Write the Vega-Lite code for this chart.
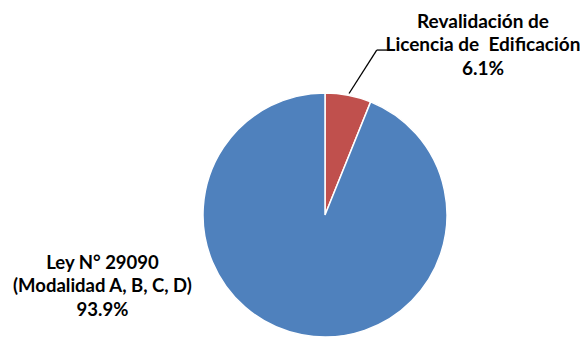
{
  "$schema": "https://vega.github.io/schema/vega-lite/v6.json",
  "width": 244,
  "height": 244,
  "autosize": {"type": "none"},
  "padding": {"left": 203, "top": 93, "right": 133, "bottom": 1},
  "background": "white",
  "view": {"stroke": null},
  "data": {
    "values": [
      {"categoria": "Revalidación de\nLicencia de\u00a0 Edificación", "porcentaje": 6.1, "orden": 1},
      {"categoria": "Ley N° 29090\n(Modalidad A, B, C, D)", "porcentaje": 93.9, "orden": 2}
    ]
  },
  "transform": [
    {"calculate": "datum.categoria + '\\n' + format(datum.porcentaje, '.1f') + '%'", "as": "etiqueta"}
  ],
  "layer": [
    {
      "mark": {"type": "arc", "stroke": "white", "strokeWidth": 1.5},
      "encoding": {
        "theta": {"field": "porcentaje", "type": "quantitative", "stack": true},
        "color": {
          "field": "categoria",
          "type": "nominal",
          "scale": {
            "domain": ["Revalidación de\nLicencia de\u00a0 Edificación", "Ley N° 29090\n(Modalidad A, B, C, D)"],
            "range": ["#C0504D", "#4F81BD"]
          },
          "legend": null
        },
        "order": {"field": "orden", "type": "quantitative"}
      }
    },
    {
      "transform": [{"filter": "datum.orden == 1"}],
      "mark": {"type": "rule", "color": "black", "strokeWidth": 1.3},
      "encoding": {
        "x": {"datum": 0.197, "type": "quantitative", "scale": {"domain": [-1, 1], "nice": false, "zero": false}, "axis": null},
        "x2": {"datum": 0.424},
        "y": {"datum": 0.996, "type": "quantitative", "scale": {"domain": [-1, 1], "nice": false, "zero": false}, "axis": null},
        "y2": {"datum": 1.352}
      }
    },
    {
      "transform": [{"filter": "datum.orden == 1"}],
      "mark": {"type": "rule", "color": "black", "strokeWidth": 1.3},
      "encoding": {
        "x": {"datum": 0.424, "type": "quantitative"},
        "x2": {"datum": 0.522},
        "y": {"datum": 1.352, "type": "quantitative"}
      }
    },
    {
      "transform": [{"filter": "datum.orden == 1"}],
      "mark": {"type": "text", "font": "Lato", "fontWeight": "bold", "fontSize": 19, "lineHeight": 23.5, "lineBreak": "\n", "align": "center", "baseline": "middle", "color": "black"},
      "encoding": {
        "x": {"datum": 1.295, "type": "quantitative"},
        "y": {"datum": 1.582, "type": "quantitative"},
        "text": {"field": "etiqueta", "type": "nominal"}
      }
    },
    {
      "transform": [{"filter": "datum.orden == 2"}],
      "mark": {"type": "text", "font": "Lato", "fontWeight": "bold", "fontSize": 18.5, "lineHeight": 23.5, "lineBreak": "\n", "align": "center", "baseline": "middle", "color": "black"},
      "encoding": {
        "x": {"datum": -1.824, "type": "quantitative"},
        "y": {"datum": -0.393, "type": "quantitative"},
        "text": {"field": "etiqueta", "type": "nominal"}
      }
    }
  ]
}
